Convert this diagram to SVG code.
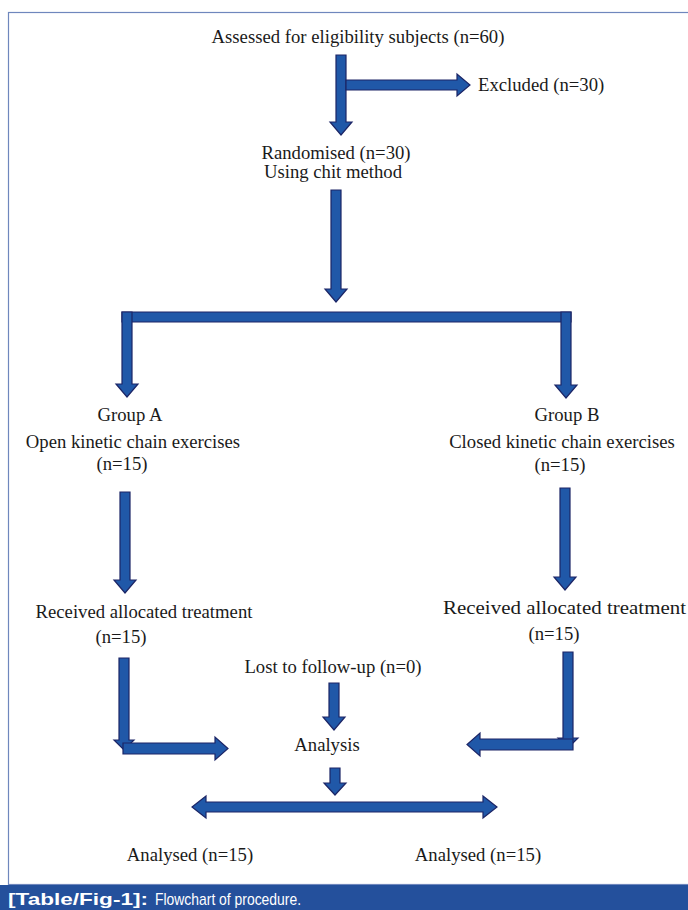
<svg xmlns="http://www.w3.org/2000/svg" width="688" height="910" viewBox="0 0 688 910">
<style>
.t{font-family:"Liberation Serif","Times New Roman",serif;font-size:18.7px;fill:#1a1a1a;text-anchor:middle}
.a{fill:#2058a8;stroke:#1c2566;stroke-width:1.2;stroke-linejoin:miter}
.cap{font-family:"Liberation Sans",Arial,sans-serif;font-size:17px;fill:#ffffff}
</style>
<rect x="0" y="0" width="688" height="910" fill="#ffffff"/>
<rect x="8.5" y="12.5" width="700" height="872" fill="none" stroke="#6f87bd" stroke-width="1.2"/>
<rect x="0" y="885" width="688" height="25" fill="#24509c"/>
<g id="caption">
<text x="8" y="905" class="cap" font-weight="bold" textLength="140" lengthAdjust="spacingAndGlyphs">[Table/Fig-1]:</text>
<text x="155" y="905" class="cap" textLength="146" lengthAdjust="spacingAndGlyphs">Flowchart of procedure.</text>
</g>
<g id="connectors">
<polygon class="a" points="336,55 346,55 346,122 352,122 341,135 330,122 336,122"/>
<polygon class="a" points="346,80 457,80 457,74 470,85 457,96 457,90 346,90"/>
<polygon class="a" points="331,190 341,190 341,289 347,289 336,302 325,289 331,289"/>
<polygon class="a" points="122,312 571,312 571,322 122,322"/>
<polygon class="a" points="122,312 132,312 132,384 138,384 127,397 116,384 122,384"/>
<polygon class="a" points="561,312 571,312 571,385 577,385 566,398 555,385 561,385"/>
<polygon class="a" points="120,492 130,492 130,580 136,580 125,593 114,580 120,580"/>
<polygon class="a" points="560,488 570,488 570,577 576,577 565,590 554,577 560,577"/>
<polygon class="a" points="119,658 129,658 129,740 134,740 124,750 114,740 119,740"/>
<polygon class="a" points="123,743 215,743 215,737 228,748.5 215,760 215,754 123,754"/>
<polygon class="a" points="563,652 573,652 573,738 578,738 568,748 558,738 563,738"/>
<polygon class="a" points="573,739 480,739 480,733 467,744.5 480,756 480,750 573,750"/>
<polygon class="a" points="329,683 339,683 339,717 345,717 334,730 323,717 329,717"/>
<polygon class="a" points="330,768 340,768 340,783 346,783 335,795 324,783 330,783"/>
<polygon class="a" points="206,802 483,802 483,796 497,807 483,818 483,812 206,812 206,818 192,807 206,796"/>
</g>
<g id="n-assessed"><text class="t" x="358" y="43">Assessed for eligibility subjects (n=60)</text></g>
<g id="n-excluded"><text class="t" x="478" y="91" style="text-anchor:start">Excluded (n=30)</text></g>
<g id="n-randomised"><text class="t" x="336" y="159">Randomised (n=30)</text><text class="t" x="333" y="178">Using chit method</text></g>
<g id="n-groupA"><text class="t" x="130" y="421">Group A</text><text class="t" x="133" y="448">Open kinetic chain exercises</text><text class="t" x="122" y="470">(n=15)</text></g>
<g id="n-groupB"><text class="t" x="567" y="421">Group B</text><text class="t" x="562" y="448">Closed kinetic chain exercises</text><text class="t" x="560" y="471">(n=15)</text></g>
<g id="n-recA"><text class="t" x="144" y="618">Received allocated treatment</text><text class="t" x="121" y="643">(n=15)</text></g>
<g id="n-recB"><text class="t" x="443" y="614" style="text-anchor:start" textLength="243" lengthAdjust="spacingAndGlyphs">Received allocated treatment</text><text class="t" x="554" y="640">(n=15)</text></g>
<g id="n-lost"><text class="t" x="333" y="673">Lost to follow-up (n=0)</text></g>
<g id="n-analysis"><text class="t" x="327" y="751">Analysis</text></g>
<g id="n-analysedA"><text class="t" x="190" y="861">Analysed (n=15)</text></g>
<g id="n-analysedB"><text class="t" x="478" y="861">Analysed (n=15)</text></g>
</svg>
